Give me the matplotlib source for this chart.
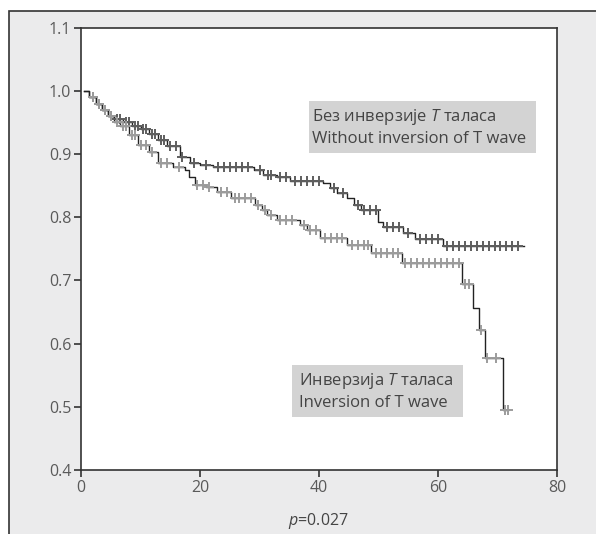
import matplotlib
matplotlib.use("Agg")
import matplotlib.pyplot as plt
import numpy as np
from matplotlib.patches import Rectangle

plt.rcParams['font.family'] = ['Open Sans', 'DejaVu Sans']
plt.rcParams['mathtext.fontset'] = 'custom'
plt.rcParams['mathtext.rm'] = 'Open Sans'
plt.rcParams['mathtext.it'] = 'Open Sans:italic'

# Without inversion of T wave (step points)
t_no = [0.5, 1.4, 2.5, 3.5, 4.5, 5.5, 7, 8.5, 10, 11.5, 13, 14.5, 16.6, 18.3, 20, 22.2,
        29, 30.6, 32.9, 35.1, 40.7, 41.8, 43.0, 44.7, 45.8, 47.0, 50.0, 50.8, 54.2, 56.1, 60.9]
s_no = [1.0, 0.99, 0.98, 0.97, 0.96, 0.955, 0.95, 0.945, 0.94, 0.932, 0.922, 0.912, 0.896,
        0.886, 0.883, 0.879, 0.875, 0.867, 0.863, 0.857, 0.854, 0.846, 0.838, 0.830, 0.820,
        0.812, 0.793, 0.785, 0.775, 0.765, 0.755]
end_no = 74.5
cens_no = [2, 3, 4, 5, 6, 6.5, 7.5, 8, 9, 9.5, 10.5, 11, 12, 12.5, 13.5, 14, 15, 16, 17, 19,
           21, 23, 24, 25, 26, 27, 28, 30, 31.5, 32, 33.5, 34.5, 36, 37, 38, 39, 40, 42.5,
           44, 46.5, 47.5, 48.5, 49.5, 51.5, 52.5, 53.5, 55, 57, 58, 59, 60, 61.5, 62.5, 63.5,
           64.5, 65.5, 66.5, 67.5, 68.5, 69.5, 70.5, 71.5, 72.5, 73.5]

# Inversion of T wave
t_inv = [0.5, 1.4, 2.5, 3.5, 4.5, 5.5, 6.5, 8, 9.5, 11.5, 13, 15.5, 17.5, 18.1, 19.2, 21,
         22.8, 25.2, 29.2, 30.4, 31.2, 32.9, 36.8, 37.9, 40.2, 44.7, 48.8, 53.9, 64.0, 65.9,
         66.9, 67.9, 70.9]
s_inv = [1.0, 0.99, 0.98, 0.97, 0.96, 0.95, 0.944, 0.93, 0.915, 0.904, 0.886, 0.880, 0.875,
         0.864, 0.851, 0.848, 0.840, 0.830, 0.819, 0.811, 0.804, 0.796, 0.788, 0.780, 0.767,
         0.756, 0.743, 0.727, 0.695, 0.656, 0.621, 0.577, 0.495]
end_inv = 71.8
cens_inv = [2, 3, 4, 5, 6, 7, 7.5, 8.5, 9, 10, 11, 12, 13.5, 14.5, 16.5, 19.5, 20.5, 21.5,
            23.5, 24.5, 25.8, 26.5, 27.5, 28.5, 29.8, 31, 32, 33.5, 34.5, 35.5, 37.5, 38.5,
            39.5, 41, 42, 43, 43.8, 45.5, 46.5, 47.5, 48.2, 49.5, 50.5, 51.5, 52.5, 53.2,
            54.5, 55.5, 56.5, 57.5, 58.5, 59.5, 60.5, 61.5, 62.5, 63.5, 64.5, 65.2, 67.2,
            68.2, 69.8, 71.2, 71.7]

label_no = "Без инверзије $T$ таласа\nWithout inversion of T wave"
label_inv = "Инверзија $T$ таласа\nInversion of T wave"


def step_at(ts, ss, x):
    i = np.searchsorted(ts, x, side='right') - 1
    return np.array(ss)[np.clip(i, 0, len(ss) - 1)]


fig = plt.figure(figsize=(5.96, 5.34), dpi=100, facecolor='white')
# grey panel with dark border on top/left
fig.patches.append(Rectangle((9 / 596, -0.05), 1.1, 1 - 11 / 534 + 0.05,
                             transform=fig.transFigure, facecolor='#ebebec',
                             edgecolor='#333333', lw=1.2, zorder=-5))
ax = fig.add_axes([81 / 596, 1 - 470 / 534, 476 / 596, 442.3 / 534])
ax.set_zorder(2)
ax.set_facecolor('white')

for ts, ss, end, cens, mc in [(t_no, s_no, end_no, cens_no, '#5e5e5e'),
                              (t_inv, s_inv, end_inv, cens_inv, '#9c9c9c')]:
    ax.step(list(ts) + [end], list(ss) + [ss[-1]], where='post', color='#222222', lw=1.0, zorder=2)
    ax.plot(cens, step_at(ts, ss, cens), ls='none', marker='+', ms=7.5, mew=1.4,
            color=mc, zorder=3)

ax.set_xlim(0, 80)
ax.set_ylim(0.4, 1.1)
ax.set_xticks([0, 20, 40, 60, 80])
ax.set_yticks(np.arange(0.4, 1.101, 0.1))
ax.set_yticklabels([f"{v:.1f}" for v in np.arange(0.4, 1.101, 0.1)])
ax.tick_params(axis='both', direction='out', length=5, width=1.2, color='#333333',
               labelcolor='#5a5a5a', labelsize=11.5)
ax.tick_params(axis='y', pad=2)
ax.tick_params(axis='x', pad=2)
for sp in ax.spines.values():
    sp.set_color('#333333')
    sp.set_linewidth(1.2)

# label boxes
ax.add_patch(Rectangle((38.3, 0.902), 38.2, 0.082, facecolor='#d3d3d3', edgecolor='none',
                       zorder=1))
ax.text(38.9, 0.943, label_no, fontsize=12, color='#444444', va='center', ha='left',
        linespacing=1.38, zorder=4)
ax.add_patch(Rectangle((35.5, 0.484), 28.7, 0.082, facecolor='#d3d3d3', edgecolor='none',
                       zorder=1))
ax.text(36.6, 0.525, label_inv, fontsize=12, color='#444444', va='center', ha='left',
        linespacing=1.38, zorder=4)

fig.text(318.5 / 596, 1 - 521 / 534, "$p$=0.027", fontsize=11.5, color='#444444',
         ha='center', va='center')

fig.savefig("out.png", dpi=100)
